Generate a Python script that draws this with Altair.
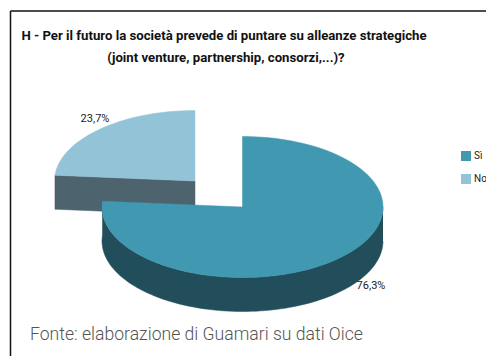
import math
import altair as alt
import pandas as pd

# --- data ---
series = ["Sì", "No"]
shares = [76.3, 23.7]
share_labels = ["76,3%", "23,7%"]
title_lines = ["H - Per il futuro la società prevede di puntare su alleanze strategiche",
               "(joint venture, partnership, consorzi,...)?"]
source_text = ["Fonte: elaborazione di Guamari su dati Oice"]

# --- styles ---
TOP = ["#4198b1", "#93c3d6"]
SIDE = ["#224e5c", "#4d636e"]
FONT = "Roboto"

# --- layout: positions are in page pixels of the picture ---
W, H = 478, 348
X = alt.Scale(domain=[8, 486], range=[0, W])
Y = alt.Scale(domain=[8, 356], range=[0, H])
RX, RY, DEPTH = 140.5, 70.5, 34
BIG_C = (242.5, 207)
SMALL_C = (195, 181)


def ell(c, deg, dy=0):
    a = math.radians(deg)
    return c[0] + RX * math.sin(a), c[1] - RY * math.cos(a) + dy


split = shares[0] / sum(shares) * 360
STEP = 2


def arc_pts(c, a0, a1, dy=0):
    n = max(2, int(abs(a1 - a0) / STEP))
    return [ell(c, a0 + (a1 - a0) * i / n, dy) for i in range(n + 1)]


big_top = [BIG_C] + arc_pts(BIG_C, 0, split) + [BIG_C]
big_wall = arc_pts(BIG_C, 90, split) + arc_pts(BIG_C, split, 90, DEPTH)
small_top = [SMALL_C] + arc_pts(SMALL_C, split, 360) + [SMALL_C]
p = ell(SMALL_C, split)
small_cut = [p, SMALL_C, (SMALL_C[0], SMALL_C[1] + DEPTH), (p[0], p[1] + DEPTH), p]


def face(points, colour):
    df = pd.DataFrame(points, columns=["x", "y"])
    df["i"] = range(len(df))
    chart = alt.Chart(df).mark_line(fill=colour, stroke=colour, strokeWidth=0.5, interpolate="linear")
    return chart.encode(
        x=alt.X("x:Q", scale=X, axis=None),
        y=alt.Y("y:Q", scale=Y, axis=None),
        order="i:Q",
    )


faces = [
    face(small_cut, SIDE[1]),
    face(small_top, TOP[1]),
    face(big_wall, SIDE[0]),
    face(big_top, TOP[0]),
]

frame = [
    alt.Chart(pd.DataFrame({"a": [0]})).mark_rule(color="#111111", strokeWidth=1.5).encode(
        x=alt.value(10.5 - 8), y=alt.value(11 - 8), y2=alt.value(H)),
    alt.Chart(pd.DataFrame({"a": [0]})).mark_rule(color="#111111", strokeWidth=1.5).encode(
        y=alt.value(11 - 8), x=alt.value(10.5 - 8), x2=alt.value(W)),
]

title_df = pd.DataFrame({"t": title_lines, "x": [224, 226], "y": [36, 58]})
title = alt.Chart(title_df).mark_text(font=FONT, fontSize=13.2, fontWeight="bold", color="#111111", align="center", baseline="middle").encode(
    x=alt.X("x:Q", scale=X, axis=None), y=alt.Y("y:Q", scale=Y, axis=None), text="t:N")

label_df = pd.DataFrame({"t": share_labels, "x": [371, 95], "y": [286, 119]})
labels = alt.Chart(label_df).mark_text(font=FONT, fontSize=11, color="#222222", align="center", baseline="middle").encode(
    x=alt.X("x:Q", scale=X, axis=None), y=alt.Y("y:Q", scale=Y, axis=None), text="t:N")

src_df = pd.DataFrame({"t": source_text, "x": [30], "y": [335]})
source = alt.Chart(src_df).mark_text(font=FONT, fontWeight=300, fontSize=17.6, color="#555555", align="left", baseline="middle").encode(
    x=alt.X("x:Q", scale=X, axis=None), y=alt.Y("y:Q", scale=Y, axis=None), text="t:N")

# legend: a real colour legend, from an invisible layer
leg_df = pd.DataFrame({"s": series, "v": shares, "x": [460, 460], "y": [100, 100]})
legend_layer = alt.Chart(leg_df).mark_square(size=100, opacity=0, filled=True).encode(
    x=alt.X("x:Q", scale=X, axis=None),
    y=alt.Y("y:Q", scale=Y, axis=None),
    color=alt.Color("s:N", scale=alt.Scale(domain=series, range=TOP), legend=alt.Legend(
        title=None, orient="none", legendX=460 - 8, legendY=150 - 8, symbolType="square", symbolSize=100,
        symbolOpacity=1, labelFont=FONT, labelFontSize=10, labelColor="#222222", rowPadding=12, labelOffset=2, padding=0)),
)

chart = alt.layer(*frame, *faces, legend_layer, title, labels, source).properties(
    width=W, height=H, padding=0, autosize=alt.AutoSizeParams(type="none"), background="white"
).configure_view(stroke=None)

chart.save("out.html", embed_options={"renderer": "svg", "actions": False})
